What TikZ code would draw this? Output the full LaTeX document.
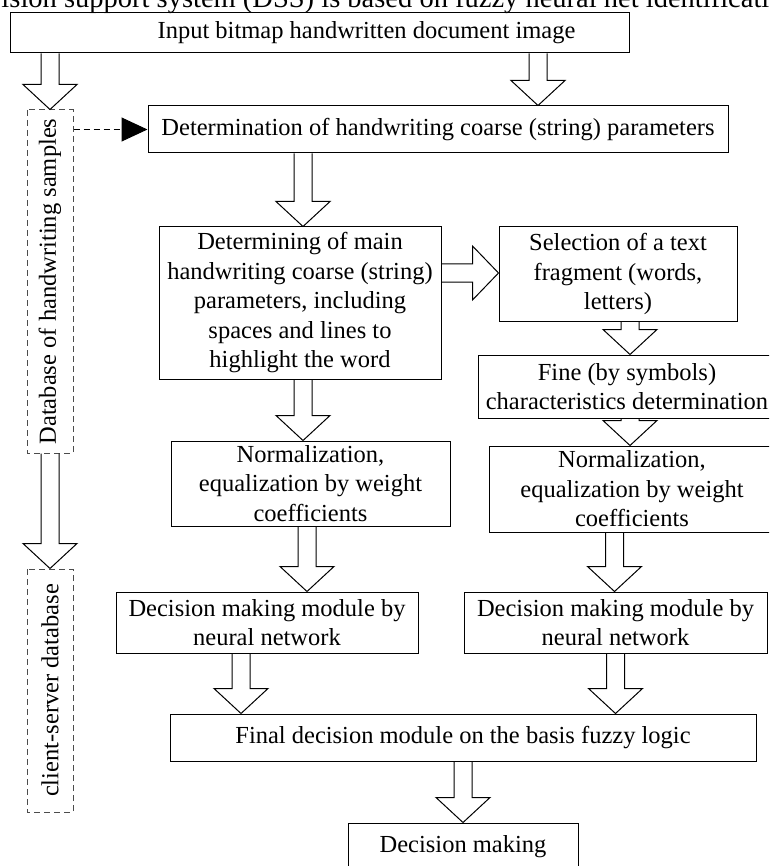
\documentclass[tikz,border=0pt]{standalone}
\usepackage{fontspec}
\setmainfont{Liberation Serif}
\usetikzlibrary{arrows.meta,calc}
\begin{document}
\begin{tikzpicture}[x=1pt,y=-1pt,line width=1pt,
    box/.style={draw,align=center,inner sep=0pt,font=\fontsize{24.5}{29.5}\selectfont},
    db/.style={draw=black!70,dash pattern=on 6pt off 4pt,inner sep=0pt,rotate=90,minimum height=46pt,font=\fontsize{24.5}{29.5}\selectfont},
    fat/.style={to path={let \p1=(\tikztostart),\p2=(\tikztotarget) in
      (\x1-9pt,\y1) -- (\x1-9pt,\y2+25pt) -- (\x1-27pt,\y2+25pt) -- (\x1,\y2)
      -- (\x1+27pt,\y2+25pt) -- (\x1+9pt,\y2+25pt) -- (\x1+9pt,\y1)}},
    fatright/.style={to path={let \p1=(\tikztostart),\p2=(\tikztotarget) in
      (\x1,\y1+9pt) -- (\x2-26pt,\y1+9pt) -- (\x2-26pt,\y1+27pt) -- (\x2,\y1)
      -- (\x2-26pt,\y1-27pt) -- (\x2-26pt,\y1-9pt) -- (\x1,\y1-9pt)}}]
  \useasboundingbox (0,0) rectangle (769,866);
  \clip (0,0) rectangle (769,866);
  \node[anchor=base west,inner sep=0pt,font=\fontsize{28.5}{30}\selectfont] (cap) at (1,8)
    {ision support system (DSS) is based on fuzzy neural net identificati};
  \node[box,minimum width=619pt,minimum height=40pt] (A) at (319.5,33) {\hspace*{94pt}Input bitmap handwritten document image};
  \node[box,minimum width=580pt,minimum height=47pt] (B) at (438,129.5) {Determination of handwriting coarse (string) parameters};
  \node[db,minimum width=343pt] (db1) at (50,281.5) {Database of handwriting samples};
  \node[db,minimum width=243pt] (db2) at (50,690.5) {client-server database};
  \node[box,minimum width=282pt,minimum height=152pt] (C) at (300,303)
    {Determining of main\\handwriting coarse (string)\\parameters, including\\spaces and lines to\\highlight the word};
  \node[box,minimum width=238pt,minimum height=94pt] (D) at (618,274) {Selection of a text\\fragment (words,\\letters)};
  \node[box,minimum width=298pt,minimum height=63pt] (E) at (627,386.5) {Fine (by symbols)\\characteristics determination};
  \node[box,minimum width=279pt,minimum height=85pt] (G) at (310.5,483.5) {Normalization,\\equalization by weight\\coefficients};
  \node[box,minimum width=286pt,minimum height=86pt] (F) at (632,489) {Normalization,\\equalization by weight\\coefficients};
  \node[box,minimum width=302pt,minimum height=61pt] (H) at (267,622.5) {Decision making module by\\neural network};
  \node[box,minimum width=303pt,minimum height=61pt] (I) at (615.5,622.5) {Decision making module by\\neural network};
  \node[box,minimum width=586pt,minimum height=47pt] (J) at (463,737.5) {Final decision module on the basis fuzzy logic};
  \node[box,minimum width=230pt,minimum height=48pt] (K) at (463,847) {Decision making};
  \draw ([xshift=-269.5pt]A.south) to[fat] (db1.east);
  \draw ([xshift=218.5pt]A.south) to[fat] (B.north);
  \draw (db1.west) to[fat] (db2.east);
  \draw[dash pattern=on 6pt off 4pt,-{Triangle[length=26pt,width=24pt]}] (db1.south |- B.west) -- (B.west);
  \draw ([xshift=-135pt]B.south) to[fat] (C.north);
  \draw ([yshift=30pt]C.east) to[fatright] (D.west);
  \draw ([xshift=3pt]C.south) to[fat] (G.north);
  \draw ([xshift=12pt]D.south) to[fat] (E.north);
  \draw ([xshift=3pt]E.south) to[fat] (F.north);
  \draw ([xshift=-3.5pt]G.south) to[fat] (H.north);
  \draw ([xshift=-17.5pt]F.south) to[fat] (I.north);
  \draw ([xshift=-26pt]H.south) to[fat] (J.north);
  \draw (I.south) to[fat] (J.north);
  \draw (J.south) to[fat] (K.north);
\end{tikzpicture}
\end{document}
